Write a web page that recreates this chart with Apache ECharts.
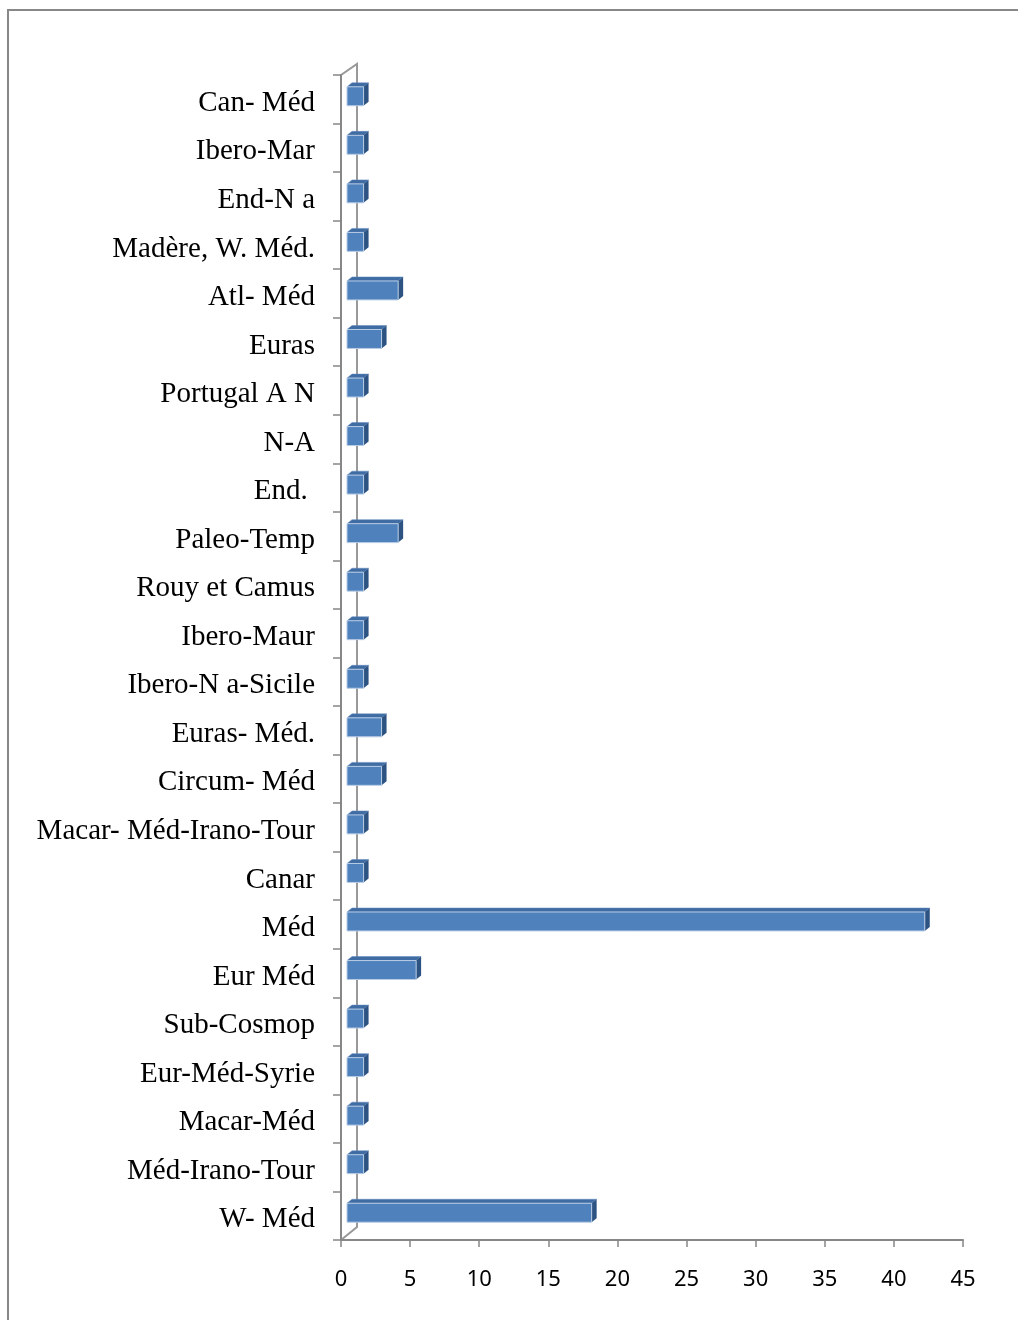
<!DOCTYPE html>
<html>
<head>
<meta charset="utf-8">
<style>html,body{margin:0;padding:0;background:#fff;}#c{width:1018px;height:1320px;}</style>
<script src="https://cdn.jsdelivr.net/npm/echarts@6/dist/echarts.min.js"></script>
</head>
<body>
<div id="c"></div>
<script>
// Categories, top to bottom
const categories = [
  'Can- Méd','Ibero-Mar','End-N a','Madère, W. Méd.','Atl- Méd','Euras','Portugal A N','N-A','End. ',
  'Paleo-Temp','Rouy et Camus','Ibero-Maur','Ibero-N a-Sicile','Euras- Méd.','Circum- Méd',
  'Macar- Méd-Irano-Tour','Canar','Méd','Eur Méd','Sub-Cosmop','Eur-Méd-Syrie','Macar-Méd',
  'Méd-Irano-Tour','W- Méd'
];
const values = [
  1.2, 1.2, 1.2, 1.2, 3.7, 2.5, 1.2, 1.2, 1.2,
  3.7, 1.2, 1.2, 1.2, 2.5, 2.5,
  1.2, 1.2, 41.8, 5.0, 1.2, 1.2, 1.2,
  1.2, 17.7
];
const xTicks = [0, 5, 10, 15, 20, 25, 30, 35, 40, 45];

const chart = echarts.init(document.getElementById('c'), null, {renderer: 'canvas'});
const axisGray = '#878787';

function renderItem(params, api) {
  const v = api.value(0);
  const cat = api.value(1);
  const p0 = api.coord([0, cat]);
  const p1 = api.coord([v, cat]);
  const band = api.size([0, 1])[1];
  const h = band * 0.39;
  const cy = p0[1] - 3;
  const x0 = p0[0] + 6, x1 = p1[0] + 6;
  const y0 = cy - h / 2, y1 = cy + h / 2;
  const dx = 5, dy = -4;
  return {
    type: 'group',
    children: [
      {type: 'polygon', shape: {points: [[x0, y0], [x0 + dx, y0 + dy], [x1 + dx, y0 + dy], [x1, y0]]},
        style: {fill: '#3F6CA3', stroke: '#5E87BD', lineWidth: 0.5}},
      {type: 'polygon', shape: {points: [[x1, y0], [x1 + dx, y0 + dy], [x1 + dx, y1 + dy], [x1, y1]]},
        style: {fill: '#2D5383'}},
      {type: 'rect', shape: {x: x0, y: y0, width: x1 - x0, height: h},
        style: {fill: '#4F81BD', stroke: '#B8CCE4', lineWidth: 1}}
    ]
  };
}

chart.setOption({
  animation: false,
  backgroundColor: '#ffffff',
  grid: {left: 341, right: 55, top: 75, bottom: 80, containLabel: false},
  xAxis: {
    type: 'value', min: 0, max: 45, interval: 5,
    axisLine: {show: true, lineStyle: {color: axisGray, width: 2}},
    axisTick: {show: true, length: 7, lineStyle: {color: axisGray, width: 1.5}},
    splitLine: {show: false},
    axisLabel: {
      margin: 29, fontSize: 22, color: '#000', fontFamily: 'Noto Sans',
      formatter: function (val) { return xTicks.indexOf(val) >= 0 ? String(val) : ''; }
    }
  },
  yAxis: {
    type: 'category', inverse: true, data: categories,
    axisLine: {show: true, lineStyle: {color: axisGray, width: 2}},
    axisTick: {show: true, length: 8, lineStyle: {color: axisGray, width: 1.5}},
    axisLabel: {
      margin: 26, color: '#000',
      formatter: function (val) { return '{a|' + val + '}'; },
      rich: {a: {fontSize: 29, fontFamily: 'Liberation Serif', color: '#000', padding: [8, 0, 0, 0]}}
    }
  },
  series: [{
    type: 'custom',
    renderItem: renderItem,
    encode: {x: 0, y: 1},
    data: values.map((v, i) => [v, i])
  }],
  graphic: [
    {type: 'rect', shape: {x: 8, y: 10, width: 1030, height: 1340}, style: {fill: 'none', stroke: '#888', lineWidth: 2}, z: 0},
    {type: 'polyline', shape: {points: [[341, 75], [357, 64], [357, 1227], [341, 1240]]}, style: {fill: 'none', stroke: '#999', lineWidth: 2}, z: -1}
  ]
});
</script>
</body>
</html>
